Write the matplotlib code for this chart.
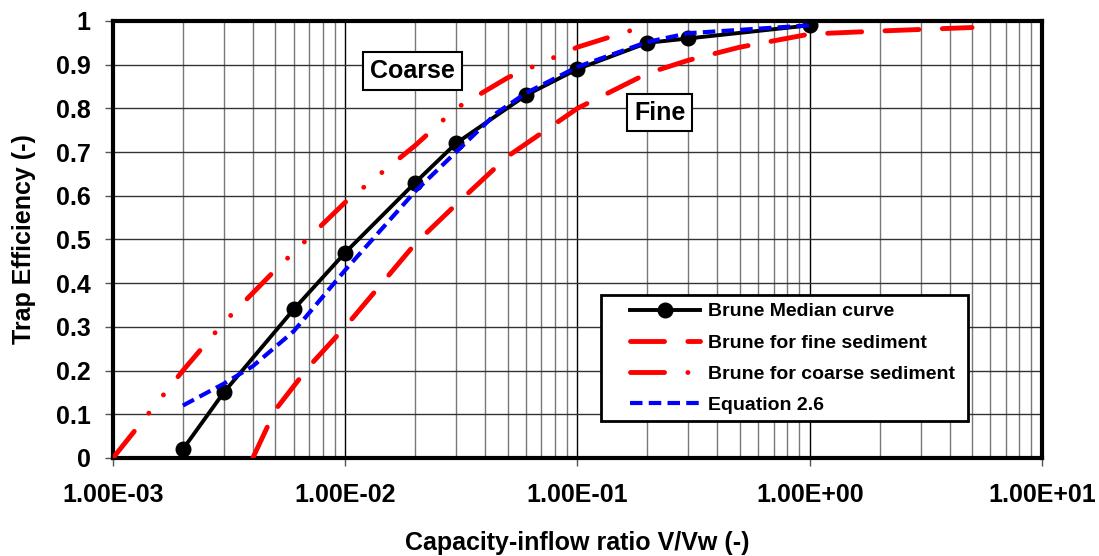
import matplotlib.pyplot as plt
from matplotlib.patches import Rectangle
from matplotlib.ticker import LogLocator, FixedLocator

plt.rcParams['font.family'] = ['Liberation Sans', 'DejaVu Sans']
plt.rcParams['font.weight'] = 'bold'

# Brune median curve
median_x = [0.002, 0.003, 0.006, 0.01, 0.02, 0.03, 0.06, 0.1, 0.2, 0.3, 1.0]
median_y = [0.02, 0.15, 0.34, 0.47, 0.63, 0.72, 0.83, 0.89, 0.95, 0.96, 0.99]

# Brune envelope for fine sediment
fine_x = [0.004, 0.005, 0.007, 0.01, 0.02, 0.03, 0.05, 0.1, 0.2, 0.3, 0.5, 1.0, 2.0, 5.0]
fine_y = [0.0, 0.11, 0.21, 0.30, 0.49, 0.58, 0.69, 0.80, 0.88, 0.91, 0.94, 0.97, 0.977, 0.985]

# Brune envelope for coarse sediment
coarse_x = [0.001, 0.002, 0.003, 0.005, 0.01, 0.02, 0.03, 0.05, 0.1, 0.2]
coarse_y = [0.0, 0.2, 0.31, 0.43, 0.585, 0.715, 0.80, 0.87, 0.94, 0.99]

# Equation 2.6
eq_x = [0.002, 0.003, 0.004, 0.006, 0.01, 0.02, 0.03, 0.045, 0.06, 0.1, 0.2, 0.3, 1.0]
eq_y = [0.12, 0.17, 0.21, 0.29, 0.43, 0.61, 0.70, 0.79, 0.835, 0.895, 0.952, 0.972, 0.99]

yticks = [0, 0.1, 0.2, 0.3, 0.4, 0.5, 0.6, 0.7, 0.8, 0.9, 1]
ytick_labels = ['0', '0.1', '0.2', '0.3', '0.4', '0.5', '0.6', '0.7', '0.8', '0.9', '1']
xticks = [1e-3, 1e-2, 1e-1, 1e0, 1e1]
xtick_labels = ['1.00E-03', '1.00E-02', '1.00E-01', '1.00E+00', '1.00E+01']

fig = plt.figure(figsize=(10.99, 5.56), dpi=100)
ax = fig.add_axes([0.1028, 0.1763, 0.8453, 0.786])

ax.plot(median_x, median_y, color='black', lw=2.8, marker='o', ms=10.5,
        label='Brune Median curve', zorder=5)
ax.plot(fine_x, fine_y, color='red', lw=3.5, dashes=(7, 4.8),
        dash_capstyle='round', label='Brune for fine sediment', zorder=4)
ax.plot(coarse_x, coarse_y, color='red', lw=3.5,
        dashes=(7, 4.8, 0.01, 4.8, 0.01, 4.8), dash_capstyle='round',
        label='Brune for coarse sediment', zorder=4)
ax.plot(eq_x, eq_y, color='blue', lw=3, dashes=(3, 1.5),
        label='Equation 2.6', zorder=6)

ax.set_xscale('log')
ax.set_xlim(1e-3, 1e1)
ax.set_ylim(0, 1)

ax.xaxis.set_major_locator(FixedLocator(xticks))
ax.set_xticks(xticks)
ax.set_xticklabels(xtick_labels)
ax.xaxis.set_minor_locator(LogLocator(base=10, subs=range(2, 10)))
ax.set_yticks(yticks)
ax.set_yticklabels(ytick_labels)

ax.grid(True, which='major', axis='x', color='black', lw=1)
ax.grid(True, which='minor', axis='x', color='#777777', lw=1)
ax.grid(True, which='major', axis='y', color='#333333', lw=1)
ax.set_axisbelow(True)

ax.tick_params(axis='both', which='major', labelsize=18, direction='out',
               length=6, width=1, color='#555555')
ax.tick_params(axis='x', which='major', pad=12)
ax.tick_params(axis='y', which='major', pad=10)
ax.tick_params(axis='x', which='minor', length=0)

for s in ax.spines.values():
    s.set_linewidth(3)
    s.set_color('black')

ax.set_xlabel('Capacity-inflow ratio V/Vw (-)', fontsize=18, fontweight='bold', labelpad=17)
ax.set_ylabel('Trap Efficiency (-)', fontsize=18, fontweight='bold', labelpad=14)

box = dict(boxstyle='square,pad=0.27', facecolor='white', edgecolor='black', lw=1.5)
ax.text(0.0195, 0.885, 'Coarse', fontsize=18, fontweight='bold', ha='center',
        va='center', bbox=box, zorder=7)
ax.text(0.226, 0.79, 'Fine', fontsize=18, fontweight='bold', ha='center',
        va='center', bbox=box, zorder=7)

# legend frame drawn separately so the inner padding matches
frame = Rectangle((0.525, 0.085), 0.395, 0.288, transform=ax.transAxes,
                  facecolor='white', edgecolor='black', lw=2, zorder=9)
ax.add_patch(frame)
leg = ax.legend(loc='center left', bbox_to_anchor=(0.5565, 0.2277),
                handlelength=3.6, handletextpad=0.4, labelspacing=0.7,
                frameon=False, borderpad=0, borderaxespad=0,
                prop={'weight': 'bold', 'size': 14})
leg.set_zorder(10)

fig.savefig('out.png', dpi=100)
